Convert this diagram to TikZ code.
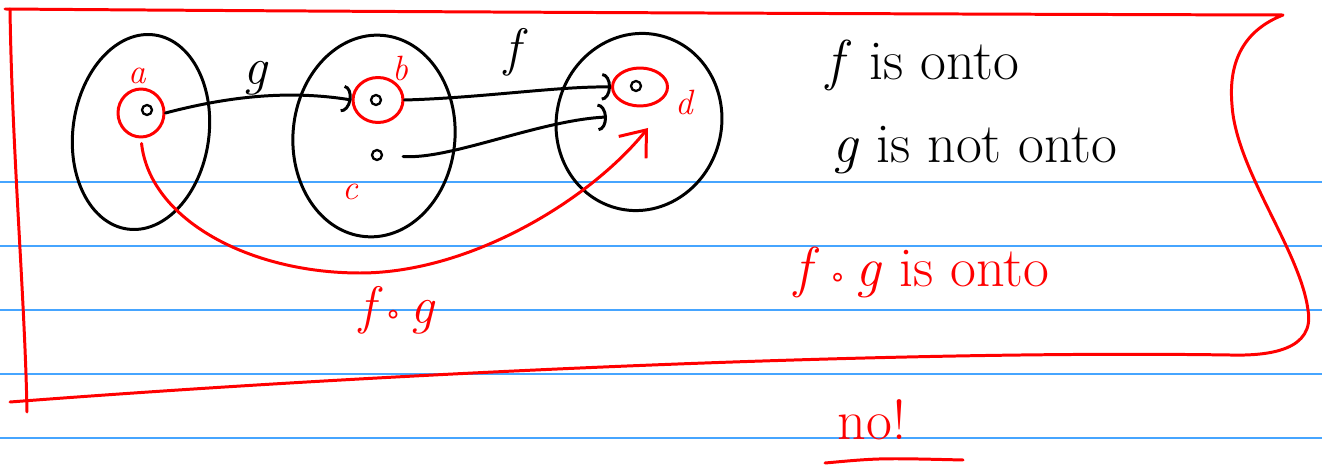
\documentclass[tikz,border=0pt]{standalone}
\usepackage{fontspec}
\newfontfamily\symfont{DejaVu Sans}
\usetikzlibrary{arrows.meta,shapes.geometric}
\definecolor{pen}{RGB}{255,0,0}
\definecolor{rule}{RGB}{70,165,255}
\newcommand{\comp}{\,{\upshape\symfont\fontsize{16}{18}\selectfont ∘}\,}

\begin{document}
\begin{tikzpicture}[
  x=0.02cm, y=-0.02cm,
  line cap=round, line join=round,
  ruleline/.style={rule, line width=1pt},
  penline/.style={pen, line width=1.7pt},
  setbox/.style={draw, ellipse, line width=1.7pt, inner sep=0pt},
  elem/.style={draw, circle, line width=1.3pt, inner sep=0pt, minimum size=2mm},
  hilite/.style={draw=pen, ellipse, line width=1.7pt, inner sep=0pt},
  map/.style={line width=1.7pt, -{Arc Barb[length=1.8mm, width=5.5mm]}},
  redmap/.style={penline, -{Straight Barb[length=4.5mm, width=7mm]}},
  lbl/.style={pen, font=\fontsize{20}{24}\selectfont\itshape},
  note/.style={font=\fontsize{32}{38}\selectfont}
]
\useasboundingbox (0,0) rectangle (1322,476);

% ruled paper
\foreach \y in {182,246,...,438}
  \draw[ruleline] (0,\y) -- (1322,\y);

% red frame
\draw[penline] (5,9) .. controls (400,12) and (900,14) .. (1283,15)
  .. controls (1245,30) and (1228,60) .. (1232,105)
  .. controls (1236,170) and (1300,250) .. (1308,310)
  .. controls (1315,350) and (1270,356) .. (1230,355)
  .. controls (900,350) and (400,372) .. (10,402);
\draw[penline] (10,9) .. controls (12,150) and (25,300) .. (27,412);

% the three sets
\node[setbox, minimum width=2.72cm, minimum height=3.92cm, rotate=-8] (X) at (141,132) {};
\node[setbox, minimum width=3.24cm, minimum height=4.04cm, rotate=-5] (Y) at (374,136) {};
\node[setbox, minimum width=3.3cm, minimum height=3.56cm, rotate=-15] (Z) at (639,122) {};

% elements
\node[elem] (a) at (147,110) {};
\node[elem] (b) at (376,100) {};
\node[elem] (c) at (377,155) {};
\node[elem] (d) at (636,86) {};
\node[hilite, minimum width=0.92cm, minimum height=0.96cm] (ra) at (141,113) {};
\node[hilite, minimum width=1.0cm, minimum height=0.9cm] (rb) at (378,100) {};
\node[hilite, minimum width=1.1cm, minimum height=0.76cm] (rd) at (640,87) {};
\node[lbl] (la) at (137,76) {a};
\node[lbl] (lb) at (400,68) {b};
\node[lbl] (lc) at (350,192) {c};
\node[lbl] (ld) at (684,102) {d};

% maps
\coordinate (din) at (607,117);
\coordinate (fogtip) at (648,128);
\draw[map] (ra.east) .. controls (230,96) and (290,90) .. (rb.west);
\draw[map] (rb.east) .. controls (480,98) and (560,86) .. (rd.west);
\draw[map, shorten <=4mm] (c.east) .. controls (450,160) and (540,120) .. (din);
\node[font=\fontsize{30}{34}\selectfont\itshape] (lg) at (255,78) {g};
\node[font=\fontsize{30}{34}\selectfont\itshape] (lf) at (512,52) {f};
\draw[redmap, shorten <=1mm] (ra.south) .. controls (150,220) and (250,273) .. (360,273)
  .. controls (470,273) and (590,200) .. (fogtip);
\node[pen, font=\fontsize{30}{34}\selectfont\itshape] (lfg) at (397,310) {f\comp g};

% notes
\node[note] (n1) at (923,65) {\textit{f} is onto};
\node[note] (n2) at (975,150) {\textit{g} is not onto};
\node[note, pen] (n3) at (922,272) {\textit{f}\comp\textit{g} is onto};
\node[note, pen] (no) at (872,420) {no!};
\draw[penline] (825,463) .. controls (880,458) .. (963,460);
\end{tikzpicture}
\end{document}
